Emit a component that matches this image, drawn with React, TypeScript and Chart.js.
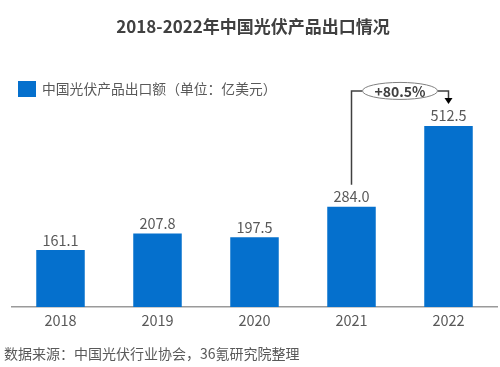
import React, { useEffect, useRef } from "react";
import { Chart, registerables } from "chart.js";

Chart.register(...registerables);

const years = ["2018", "2019", "2020", "2021", "2022"];
const exportValues = [161.1, 207.8, 197.5, 284.0, 512.5];
const seriesName = "中国光伏产品出口额（单位：亿美元）";
const titleText = "2018-2022年中国光伏产品出口情况";
const sourceText = "数据来源：中国光伏行业协会，36氪研究院整理";
const growthLabel = "+80.5%";

const FONT = '"Noto Sans CJK SC", "Noto Sans", sans-serif';
const BLUE = "#0570CD";
const TEXT = "#595959";

const overlay = {
  id: "overlay",
  afterDatasetsDraw(chart: any) {
    const ctx = chart.ctx;
    const xs = chart.scales.x;
    const ys = chart.scales.y;
    ctx.save();
    // value labels
    ctx.fillStyle = TEXT;
    ctx.font = `14.5px ${FONT}`;
    ctx.textAlign = "center";
    ctx.textBaseline = "middle";
    exportValues.forEach((v, i) => {
      ctx.fillText(v.toFixed(1), xs.getPixelForValue(i), ys.getPixelForValue(v) - 10);
    });
    // title
    ctx.fillStyle = "#404040";
    ctx.font = `bold 17px ${FONT}`;
    ctx.fillText(titleText, 253, 27);
    // legend
    ctx.fillStyle = BLUE;
    ctx.fillRect(18, 81, 18, 16);
    ctx.fillStyle = TEXT;
    ctx.font = `13.8px ${FONT}`;
    ctx.textAlign = "left";
    ctx.fillText(seriesName, 42, 89);
    // source
    ctx.font = `14px ${FONT}`;
    ctx.fillText(sourceText, 4, 354);

    // growth annotation
    const n = exportValues.length;
    const xA = xs.getPixelForValue(n - 2);
    const xB = xs.getPixelForValue(n - 1);
    const yTopLine = ys.getPixelForValue(exportValues[n - 1]) - 35;
    const yStart = ys.getPixelForValue(exportValues[n - 2]) - 22;
    const yArrow = ys.getPixelForValue(exportValues[n - 1]) - 22;
    const cx = (xA + xB) / 2 + 0;
    const rx = 37.5;
    const ry = 8.5;
    ctx.strokeStyle = "#404040";
    ctx.lineWidth = 1.5;
    ctx.beginPath();
    ctx.moveTo(xA, yStart);
    ctx.lineTo(xA, yTopLine);
    ctx.lineTo(cx - rx, yTopLine);
    ctx.moveTo(cx + rx, yTopLine);
    ctx.lineTo(xB, yTopLine);
    ctx.lineTo(xB, yArrow - 5);
    ctx.stroke();
    ctx.fillStyle = "#000";
    ctx.beginPath();
    ctx.moveTo(xB - 4, yArrow - 6);
    ctx.lineTo(xB + 4, yArrow - 6);
    ctx.lineTo(xB, yArrow);
    ctx.closePath();
    ctx.fill();
    ctx.fillStyle = "#fff";
    ctx.strokeStyle = "#808080";
    ctx.lineWidth = 1;
    ctx.beginPath();
    ctx.ellipse(cx, yTopLine, rx, ry, 0, 0, Math.PI * 2);
    ctx.fill();
    ctx.stroke();
    ctx.fillStyle = "#404040";
    ctx.font = `bold 14px ${FONT}`;
    ctx.textAlign = "center";
    ctx.fillText(growthLabel, cx, yTopLine + 0.5);
    ctx.restore();
  },
};

export default function App() {
  const ref = useRef<HTMLCanvasElement>(null);
  useEffect(() => {
    document.body.style.margin = "0";
    const chart = new Chart(ref.current!, {
      type: "bar",
      data: {
        labels: years,
        datasets: [
          {
            label: seriesName,
            data: exportValues,
            backgroundColor: BLUE,
            categoryPercentage: 1,
            barPercentage: 0.5,
          },
        ],
      },
      options: {
        animation: false,
        responsive: false,
        layout: { padding: { top: 95, left: 12, right: 3, bottom: 0 } },
        plugins: { legend: { display: false }, tooltip: { enabled: false }, title: { display: false } },
        scales: {
          x: {
            grid: { display: false, drawTicks: false },
            border: { display: true, color: "#9a9a9a", width: 1.5 },
            ticks: { color: TEXT, font: { size: 14.5, family: FONT }, padding: 5 },
            afterFit: (s: any) => {
              s.height = 60;
            },
          },
          y: {
            display: false,
            min: 0,
            max: 600,
          },
        },
      },
      plugins: [overlay],
    });
    return () => chart.destroy();
  }, []);
  return (
    <div style={{ position: "absolute", left: 0, top: 0, width: 500, height: 367, background: "#fff" }}>
      <canvas ref={ref} width={500} height={367} style={{ width: 500, height: 367 }} />
    </div>
  );
}
